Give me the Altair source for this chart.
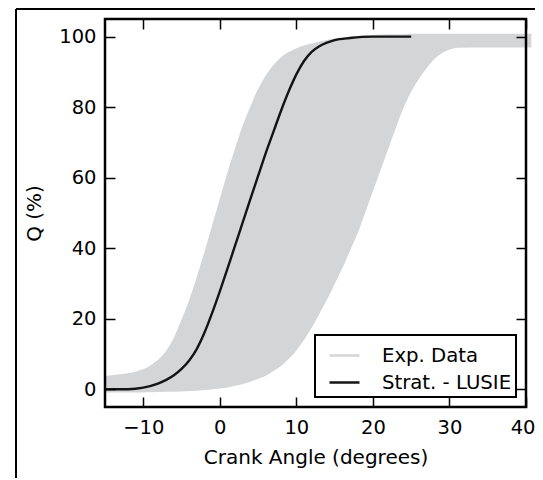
import altair as alt
import pandas as pd

# ---- data ----
ANGLE = [-15, -13, -11, -9, -7, -6, -5, -4, -3, -2, -1, 0, 1, 2, 3, 4, 5, 6, 7, 8,
         9, 10, 11, 12, 13, 14, 15, 16, 17, 18, 19, 20, 21, 22, 23, 24, 25, 26, 27,
         28, 29, 30, 31, 33, 36, 40.7]
# earliest experimental burn curve (upper edge of the grey bundle)
EXP_EARLIEST = [3.5, 4.0, 4.7, 6.5, 10.5, 14, 19, 24.5, 31, 38, 45.5, 53, 60.5, 67.5,
                74, 79.5, 84.5, 88.5, 91.5, 93.8, 95.3, 96.4, 97.2, 97.8, 98.3, 98.8,
                99.2, 99.5, 99.7, 99.9, 100.1, 100.2, 100.3, 100.4, 100.4, 100.4,
                100.5, 100.5, 100.5, 100.5, 100.5, 100.5, 100.5, 100.5, 100.5, 100.5]
# latest experimental burn curve (lower edge of the grey bundle)
EXP_LATEST = [-0.6, -0.6, -0.6, -0.5, -0.4, -0.4, -0.3, -0.2, -0.1, 0.1, 0.3, 0.5, 0.8,
              1.3, 1.8, 2.5, 3.3, 4.2, 5.5, 7, 9, 11.5, 14.5, 18, 22, 26, 30.5, 35, 40,
              45, 51, 57, 63, 69, 75, 80.5, 85, 88.5, 91.5, 94, 95.6, 96.6, 97.1, 97.2,
              97.2, 97.2]

LUSIE_ANGLE = [-15, -12, -10, -8, -7, -6, -5, -4, -3, -2, -1, 0, 1, 2, 3, 4, 5, 6, 7,
               8, 9, 10, 11, 12, 13, 14, 15, 17, 20, 25]
LUSIE_Q = [0, 0.05, 0.5, 1.7, 2.7, 4.0, 5.8, 8.2, 11.5, 16.1, 21.7, 27.8, 34.2, 40.8,
           47.4, 54, 60.5, 67, 73, 79, 84.5, 89.3, 93.1, 95.7, 97.3, 98.3, 99, 99.6,
           100, 100]

SERIES = ["Exp. Data", "Strat. - LUSIE"]
X_TICKS = [-10, 0, 10, 20, 30, 40]
Y_TICKS = [0, 20, 40, 60, 80, 100]

GRAY = "#d4d5d6"
BLACK = "#141414"
FONT = "DejaVu Sans"
W, H = 421, 388

band = pd.DataFrame({"Angle": ANGLE, "Lower": EXP_LATEST, "Upper": EXP_EARLIEST})
exp_lines = pd.concat([
    pd.DataFrame({"Angle": ANGLE, "Q": EXP_EARLIEST, "Curve": "earliest", "Series": SERIES[0]}),
    pd.DataFrame({"Angle": ANGLE, "Q": EXP_LATEST, "Curve": "latest", "Series": SERIES[0]}),
])
lusie = pd.DataFrame({"Angle": LUSIE_ANGLE, "Q": LUSIE_Q, "Series": SERIES[1]})
one = pd.DataFrame({"k": [0]})

xscale = alt.Scale(domain=[-15, 40], nice=False, zero=False)
yscale = alt.Scale(domain=[-5, 105], nice=False, zero=False)

common = dict(domain=False, grid=False, tickColor="#000", tickWidth=1.5, tickSize=10,
              offset=-10, labelFont=FONT, labelFontSize=19.5, labelColor="#000",
              titleFont=FONT, titleFontSize=20, titleFontWeight="normal",
              titleColor="#000", zindex=1)

ax_bottom = alt.Axis(orient="bottom", values=X_TICKS, labelPadding=11,
                     labelFlush=True, labelFlushOffset=9,
                     title="Crank Angle (degrees)", titlePadding=11, **common)
ax_left = alt.Axis(orient="left", values=Y_TICKS, labelPadding=9, labelFlush=False,
                   title="Q (%)", titlePadding=14, **common)
ax_top = alt.Axis(orient="top", values=X_TICKS, labels=False, title=None, **common)
ax_right = alt.Axis(orient="right", values=Y_TICKS, labels=False, title=None, **common)

color = alt.Color("Series:N", scale=alt.Scale(domain=SERIES, range=[GRAY, BLACK]),
                  legend=alt.Legend(title=None, orient="bottom-right", offset=10))

area = alt.Chart(band).mark_area(color=GRAY, interpolate="monotone").encode(
    x=alt.X("Angle:Q", scale=xscale, axis=ax_bottom),
    y=alt.Y("Lower:Q", scale=yscale, axis=ax_left),
    y2="Upper:Q",
)

gray_lines = alt.Chart(exp_lines).mark_line(strokeWidth=2, interpolate="monotone").encode(
    x=alt.X("Angle:Q", scale=xscale, axis=ax_top),
    y=alt.Y("Q:Q", scale=yscale, axis=ax_right),
    detail="Curve:N",
    color=color,
)

black_line = alt.Chart(lusie).mark_line(strokeWidth=2.4, interpolate="monotone").encode(
    x=alt.X("Angle:Q", scale=xscale, axis=None),
    y=alt.Y("Q:Q", scale=yscale, axis=None),
    color=color,
)

spines = alt.Chart(one).mark_rect(fill=None, stroke="#000", strokeWidth=2.5).encode(
    x=alt.value(0), x2=alt.value(W), y=alt.value(0), y2=alt.value(H)
)

frame_top = alt.Chart(one).mark_rule(color="#000", strokeWidth=2).encode(
    x=alt.value(-89), x2=alt.value(700), y=alt.value(-10)
)
frame_left = alt.Chart(one).mark_rule(color="#000", strokeWidth=2).encode(
    x=alt.value(-89), y=alt.value(-10), y2=alt.value(700)
)

chart = alt.layer(area, gray_lines, black_line, spines, frame_top, frame_left).resolve_axis(
    x="independent", y="independent"
).properties(
    width=W, height=H,
    autosize=alt.AutoSizeParams(type="none"),
    padding={"left": 97, "top": 11, "right": 9, "bottom": 71},
).configure_view(stroke=None).configure_legend(
    padding=4, symbolType="stroke", symbolSize=900, symbolStrokeWidth=2.5,
    symbolOffset=9, labelOffset=21, labelFontSize=19.7, labelFont=FONT,
    labelColor="#000", strokeColor="#000", strokeWidth=2, fillColor="white",
    rowPadding=0, cornerRadius=0,
)

chart.save("out.html", embed_options={"renderer": "svg", "actions": False})
